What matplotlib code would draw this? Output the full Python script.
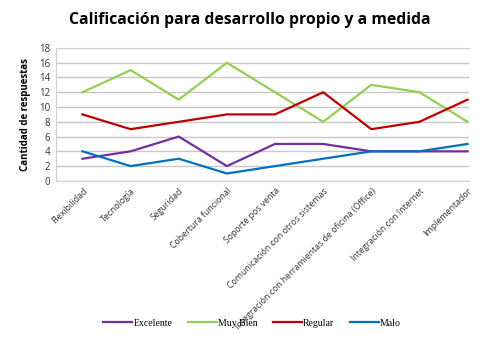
import matplotlib.pyplot as plt
import numpy as np

categorias = ["Flexibilidad", "Tecnología", "Seguridad", "Cobertura funcional",
              "Soporte pos venta", "Comunicación con otros sistemas",
              "Integración con herramientas de oficina (Office)",
              "Integración con Internet", "Implementador"]

excelente = [3, 4, 6, 2, 5, 5, 4, 4, 4]
muy_bien = [12, 15, 11, 16, 12, 8, 13, 12, 8]
regular = [9, 7, 8, 9, 9, 12, 7, 8, 11]
malo = [4, 2, 3, 1, 2, 3, 4, 4, 5]

series = [("Excelente", excelente, "#7030A0"),
          ("Muy Bien", muy_bien, "#92D050"),
          ("Regular", regular, "#C00000"),
          ("Malo", malo, "#0070C0")]

plt.rcParams['font.family'] = ['Open Sans', 'DejaVu Sans']

fig = plt.figure(figsize=(5, 3.4), dpi=100)
ax = fig.add_axes([0.112, 0.468, 0.826, 0.391])

x = np.arange(len(categorias))
for nombre, valores, color in series:
    ax.plot(x, valores, color=color, lw=1.6, label=nombre)

ax.set_ylim(0, 18)
ax.set_yticks(np.arange(0, 19, 2))
ax.set_xlim(-0.55, 8.03)
ax.set_xticks(x)
ax.set_xticklabels(categorias, rotation=45, ha='right', rotation_mode='anchor',
                   fontsize=6.3, color='#333333')
ax.tick_params(axis='y', labelsize=7, colors='#333333', length=0, pad=4)
ax.tick_params(axis='x', length=0, pad=4)
ax.yaxis.grid(True, color='#c8c8c8', lw=1)
ax.set_axisbelow(True)
for s in ax.spines.values():
    s.set_color('#d0d0d0')
ax.spines['right'].set_visible(False)

ax.set_ylabel("Cantidad de respuestas", fontsize=7, fontweight='bold', labelpad=6)
fig.suptitle("Calificación para desarrollo propio y a medida", fontsize=11.3,
             fontweight='bold', x=0.5, y=0.965)

fig.legend(loc='center', bbox_to_anchor=(0.504, 0.05), ncol=4, frameon=False,
           handlelength=3, handletextpad=0.1, columnspacing=1.6,
           prop={'family': 'Liberation Serif', 'size': 7})

fig.savefig("out.png", dpi=100)
